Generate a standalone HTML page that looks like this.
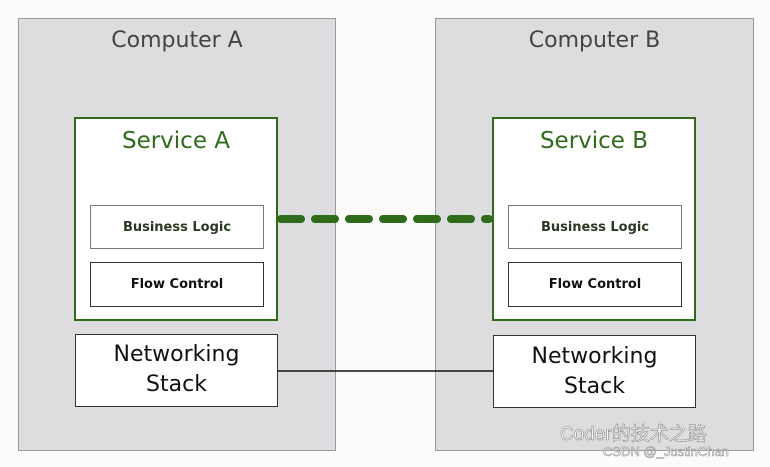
<!DOCTYPE html><html><head><style>
body{margin:0;width:770px;height:467px;background:#fbfbfb;position:relative;overflow:hidden;font-family:"DejaVu Sans","Liberation Sans",sans-serif}
div{position:absolute;box-sizing:border-box}
.comp{background:#dddddf;border:1px solid #9a9a9e}
.ct{color:#444;font-size:22px;text-align:center;width:100%}
.svc{background:#fff;border:2px solid #2f6b1a}
.st{color:#2f6b1a;font-size:23px;text-align:center;width:100%;top:9px}
.box{background:#fff;border:1.5px solid #333;display:flex;align-items:center;justify-content:center;font-size:13px;font-weight:bold;color:#111}
.bl{border-color:#777;color:#2a3a20;font-weight:bold}
.net{background:#fff;border:1.5px solid #333;text-align:center;font-size:22px;line-height:30px;color:#111}
</style></head><body>
<div class="comp" style="left:18px;top:18px;width:318px;height:433px"><div class="ct" style="top:9px">Computer A</div></div>
<div class="comp" style="left:435px;top:18px;width:319px;height:433px"><div class="ct" style="top:9px">Computer B</div></div>
<div class="svc" style="left:74px;top:117px;width:204px;height:204px"><div class="st">Service A</div></div>
<div class="svc" style="left:492px;top:117px;width:204px;height:204px"><div class="st">Service B</div></div>
<div class="box bl" style="left:90px;top:205px;width:174px;height:44px">Business Logic</div>
<div class="box" style="left:90px;top:262px;width:174px;height:45px">Flow Control</div>
<div class="box bl" style="left:508px;top:205px;width:174px;height:44px">Business Logic</div>
<div class="box" style="left:508px;top:262px;width:174px;height:45px">Flow Control</div>
<div class="net" style="left:75px;top:334px;width:203px;height:73px;padding-top:5px">Networking<br>Stack</div>
<div class="net" style="left:493px;top:335px;width:203px;height:73px;padding-top:6px">Networking<br>Stack</div>
<svg style="position:absolute;left:0;top:0" width="770" height="467">
<line x1="281" y1="219" x2="489" y2="219" stroke="#2f6b1a" stroke-width="8" stroke-dasharray="20,14" stroke-linecap="round"/>
<line x1="278" y1="371" x2="493" y2="371" stroke="#111" stroke-width="1.5"/>
<text x="560" y="440" font-size="19" fill="#fff" stroke="#888" stroke-width="0.6" font-family="Liberation Sans,Noto Sans CJK SC,sans-serif">Coder的技术之路</text>
<text x="603" y="456" font-size="13" fill="#fff" stroke="#888" stroke-width="0.5" font-family="Liberation Sans,sans-serif">CSDN @_JustinChan</text>
</svg>
</body></html>
